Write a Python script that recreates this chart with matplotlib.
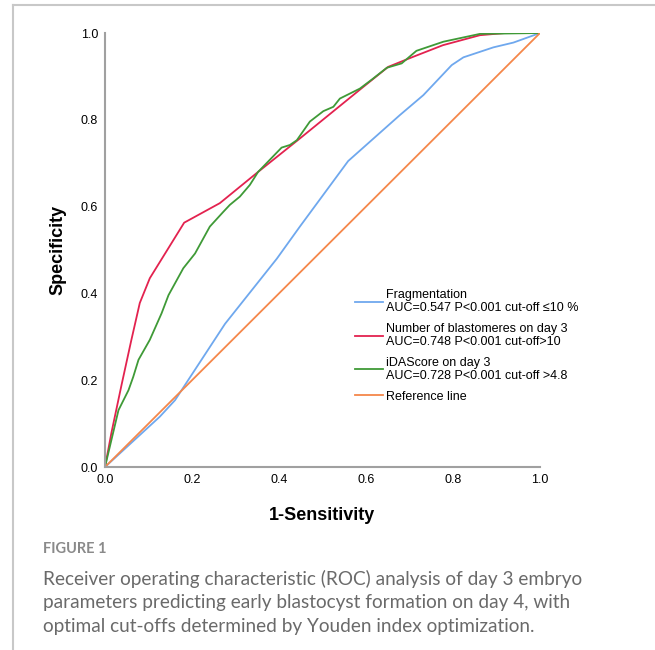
import matplotlib
matplotlib.use('Agg')
import matplotlib.pyplot as plt
from matplotlib.lines import Line2D

# ROC curve points (x = 1-sensitivity, y = specificity)
frag_x = [0.0, 0.126, 0.161, 0.276, 0.395, 0.448, 0.559, 0.678, 0.732, 0.797, 0.824, 0.893, 0.939, 1.0]
frag_y = [0.0, 0.116, 0.154, 0.330, 0.480, 0.554, 0.705, 0.811, 0.857, 0.926, 0.944, 0.967, 0.978, 1.0]

blast_x = [0.0, 0.015, 0.038, 0.060, 0.080, 0.103, 0.182, 0.264, 0.352, 0.448, 0.594, 0.651, 0.708, 0.777, 0.862, 0.920, 1.0]
blast_y = [0.0, 0.080, 0.189, 0.290, 0.378, 0.435, 0.563, 0.608, 0.680, 0.757, 0.876, 0.922, 0.945, 0.972, 0.995, 1.0, 1.0]

ida_x = [0.0, 0.031, 0.054, 0.065, 0.077, 0.103, 0.130, 0.146, 0.180, 0.207, 0.241, 0.272, 0.287, 0.310,
         0.333, 0.352, 0.406, 0.425, 0.441, 0.471, 0.502, 0.525, 0.540, 0.586, 0.615, 0.648, 0.682,
         0.716, 0.778, 0.862, 1.0]
ida_y = [0.0, 0.131, 0.177, 0.208, 0.247, 0.293, 0.354, 0.396, 0.458, 0.492, 0.554, 0.588, 0.604, 0.623,
         0.650, 0.680, 0.736, 0.742, 0.753, 0.796, 0.820, 0.830, 0.849, 0.872, 0.894, 0.920, 0.930,
         0.959, 0.980, 0.998, 1.0]

ref_x = [0.0, 1.0]
ref_y = [0.0, 1.0]

labels = ['Fragmentation\nAUC=0.547 P<0.001 cut-off \u226410 %',
          'Number of blastomeres on day 3\nAUC=0.748 P<0.001 cut-off>10',
          'iDAScore on day 3\nAUC=0.728 P<0.001 cut-off >4.8',
          'Reference line']
colors = ['#6fa8ee', '#e3224f', '#3f9a37', '#f5874a']

ticks = [0.0, 0.2, 0.4, 0.6, 0.8, 1.0]
tick_labels = ['0.0', '0.2', '0.4', '0.6', '0.8', '1.0']

caption = ('Receiver operating characteristic (ROC) analysis of day 3 embryo\n'
           'parameters predicting early blastocyst formation on day 4, with\n'
           'optimal cut-offs determined by Youden index optimization.')

plt.rcParams['font.family'] = ['Liberation Sans', 'DejaVu Sans']

fig = plt.figure(figsize=(6.55, 6.5), dpi=100)
ax = fig.add_axes([0.1603, 0.2815, 0.6641, 0.6677])

ax.plot(frag_x, frag_y, color=colors[0], lw=1.3, label=labels[0])
ax.plot(blast_x, blast_y, color=colors[1], lw=1.3, label=labels[1])
ax.plot(ida_x, ida_y, color=colors[2], lw=1.3, label=labels[2])
ax.plot(ref_x, ref_y, color=colors[3], lw=1.3, label=labels[3])

ax.set_xlim(0, 1)
ax.set_ylim(0, 1)
ax.set_xticks(ticks)
ax.set_xticklabels(tick_labels)
ax.set_yticks(ticks)
ax.set_yticklabels(tick_labels)
ax.tick_params(length=0, labelsize=9, pad=5)
for s in ['top', 'right']:
    ax.spines[s].set_visible(False)
for s in ['left', 'bottom']:
    ax.spines[s].set_color('#a0a0a0')
    ax.spines[s].set_linewidth(1.5)

ax.set_xlabel('1-Sensitivity', fontsize=13, fontweight='bold', labelpad=15)
ax.set_ylabel('Specificity', fontsize=13, fontweight='bold', labelpad=10)

leg = ax.legend(loc='upper left', bbox_to_anchor=(0.575, 0.41), frameon=False,
                fontsize=9, borderpad=0, borderaxespad=0, handlelength=2.2,
                handletextpad=0.3, labelspacing=0.72)
for t in leg.get_texts():
    t.set_linespacing(1.1)

# page frame and caption
fig.add_artist(Line2D([13/655, 13/655], [0, 645/650], color='#c8c8c8', lw=1.5))
fig.add_artist(Line2D([13/655, 1], [645/650, 645/650], color='#c8c8c8', lw=1.5))
fig.text(43/655, 1 - 549/650, 'FIGURE 1', fontsize=10.5, fontweight='bold',
         color='#8a8a8a', family='Lato', va='center')
fig.text(43/655, 1 - 570/650, caption, fontsize=13.7, color='#6a6a6a',
         family='Lato', va='top', linespacing=1.45)

fig.savefig('out.png', dpi=100)
